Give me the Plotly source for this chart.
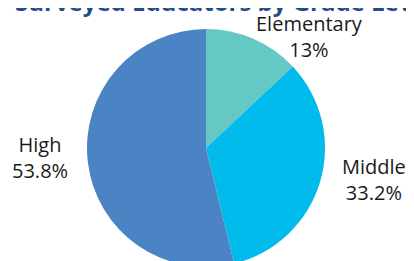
import math
import plotly.graph_objects as go

categories = ["Elementary", "Middle", "High"]
shares = [13.0, 33.2, 53.8]
value_labels = ["13%", "33.2%", "53.8%"]
colors = ["#65C8C5", "#00BBEB", "#4A84C4"]

# layout / style (figure pixels; the page adds an 8px body margin)
W, H = 414, 261
PIE_CX, PIE_CY, PIE_R = 198, 140, 119
label_style = {
    "Elementary": dict(rfac=1.02, xanchor="left", yanchor="middle", yshift=0),
    "Middle": dict(rfac=1.176, xanchor="left", yanchor="middle", yshift=8),
    "High": dict(rfac=1.15, xanchor="right", yanchor="middle", yshift=7),
}
TEXT_FONT = dict(family="Open Sans", size=20, color="#1a1a1a")

fig = go.Figure(go.Pie(
    labels=categories,
    values=shares,
    textinfo="none",
    sort=False,
    direction="clockwise",
    rotation=0,
    marker=dict(colors=colors, line=dict(width=0)),
    showlegend=False,
    hoverinfo="skip",
    domain=dict(x=[(PIE_CX - PIE_R) / W, (PIE_CX + PIE_R) / W],
                y=[1 - (PIE_CY + PIE_R) / H, 1 - (PIE_CY - PIE_R) / H]),
    automargin=False,
))

# slice labels placed at each slice's mid-angle (derived from the data)
total = sum(shares)
cum = 0.0
annotations = []
for cat, val, lab in zip(categories, shares, value_labels):
    mid = (cum + val / 2) / total * 2 * math.pi
    cum += val
    st = label_style[cat]
    rr = PIE_R * st["rfac"]
    px = PIE_CX + math.sin(mid) * rr
    py = PIE_CY - math.cos(mid) * rr
    annotations.append(dict(
        text=f"{cat}<br>{lab}", x=px / W, y=1 - py / H,
        xref="paper", yref="paper", showarrow=False, align="center",
        xanchor=st["xanchor"], yanchor=st["yanchor"], yshift=st["yshift"],
        font=TEXT_FONT,
    ))

annotations.append(dict(
    text="<b>Surveyed Educators by Grade Level</b>",
    x=5 / W, y=1, xref="paper", yref="paper", xanchor="left", yanchor="middle",
    yshift=7, showarrow=False,
    font=dict(family="Open Sans", size=24, color="#1F4E8A"),
))

fig.update_layout(
    width=W, height=H,
    margin=dict(l=0, r=0, t=0, b=0),
    paper_bgcolor="white",
    annotations=annotations,
)

fig.write_html("out.html")
